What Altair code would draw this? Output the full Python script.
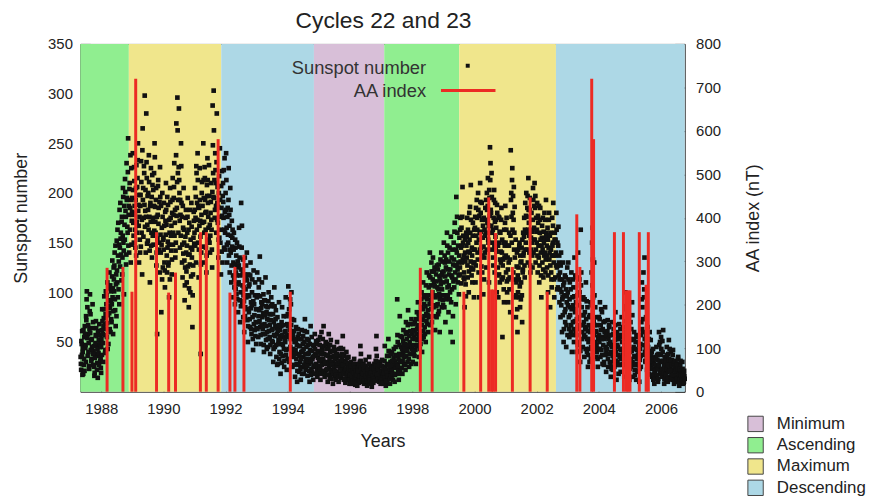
import altair as alt
import pandas as pd

FONT = "Liberation Sans"

# ---------------- Sunspot number samples, first pass (about one every 6 days) ----------------
ss_1987 = [35, 22, 48, 61, 40, 18, 27, 55, 66, 44, 30, 72, 101, 85, 58, 40, 26, 63, 98, 78,
           52, 33, 45, 88, 70, 41, 25, 19, 38, 57, 64, 47, 29, 14, 36, 52, 68, 45, 31, 24]
ss_1988 = [45, 62, 83, 58, 30, 74, 96, 68, 42, 101, 88, 55, 110, 77, 48, 92, 120, 84, 60, 101,
           70, 116, 95, 58, 125, 101, 140, 82, 66, 118, 152, 110, 95, 170, 131, 88, 145, 190, 160, 112,
           176, 135, 205, 150, 98, 168, 214, 182, 128, 230, 195, 160, 255, 178, 140, 210, 185, 130, 225, 172]
ss_1989 = [195, 240, 170, 150, 212, 180, 145, 205, 228, 160, 215, 250, 188, 130, 176, 140, 198, 232, 160, 118,
           265, 205, 175, 220, 298, 182, 140, 280, 215, 168, 152, 200, 238, 176, 110, 190, 225, 160, 135, 208,
           175, 148, 220, 250, 186, 160, 205, 140, 58, 178, 213, 185, 150, 120, 196, 140, 80, 165, 200, 125]
ss_1990 = [155, 190, 130, 105, 172, 210, 168, 120, 145, 188, 130, 95, 160, 205, 175, 142, 118, 180, 215, 160,
           195, 230, 170, 135, 150, 270, 185, 296, 220, 160, 285, 200, 145, 178, 250, 190, 130, 115, 165, 205,
           150, 92, 125, 175, 140, 110, 160, 195, 138, 85, 170, 128, 100, 145, 190, 135, 65, 118, 155, 172]
ss_1991 = [160, 205, 175, 130, 220, 190, 240, 150, 115, 185, 225, 172, 38, 140, 200, 170, 130, 250, 195, 160,
           215, 180, 145, 120, 208, 235, 190, 165, 228, 150, 140, 180, 210, 163, 125, 288, 220, 303, 195, 175,
           240, 210, 160, 280, 190, 170, 135, 200, 155, 245, 150, 118, 185, 222, 130, 210, 175, 145, 235, 160]
ss_1992 = [200, 240, 165, 130, 185, 150, 225, 178, 120, 205, 140, 110, 172, 155, 95, 130, 160, 105, 88, 145,
           120, 98, 150, 125, 80, 110, 165, 135, 70, 100, 190, 145, 90, 120, 75, 105, 60, 135, 85, 115,
           95, 140, 72, 50, 118, 80, 108, 65, 130, 90, 58, 100, 75, 42, 122, 88, 62, 110, 70, 48]
ss_1993 = [95, 120, 70, 55, 105, 82, 136, 65, 48, 90, 110, 75, 58, 98, 40, 68, 92, 115, 52, 80,
           60, 85, 45, 100, 72, 55, 38, 78, 95, 62, 88, 50, 30, 70, 105, 45, 66, 82, 35, 58,
           75, 28, 52, 90, 40, 62, 18, 48, 70, 85, 36, 55, 76, 25, 60, 50, 95, 42, 22, 68]
ss_1994 = [78, 106, 55, 30, 62, 45, 88, 100, 40, 25, 60, 35, 72, 50, 15, 42, 65, 28, 10, 55,
           38, 58, 20, 46, 30, 12, 40, 62, 25, 48, 35, 18, 50, 73, 30, 22, 45, 60, 16, 38,
           52, 28, 10, 42, 66, 30, 55, 20, 35, 12, 46, 25, 58, 38, 18, 28, 48, 15, 34, 52]
ss_1995 = [40, 25, 55, 12, 33, 60, 45, 20, 30, 66, 38, 15, 28, 50, 22, 30, 48, 10, 36, 58,
           25, 14, 40, 52, 18, 35, 22, 8, 30, 45, 16, 42, 28, 12, 34, 50, 20, 36, 10, 26,
           18, 30, 44, 14, 22, 38, 56, 24, 12, 30, 20, 9, 28, 40, 15, 26, 14, 35, 18, 8]
ss_1996 = [12, 22, 30, 8, 18, 25, 10, 15, 33, 20, 7, 18, 28, 12, 6, 15, 24, 9, 20, 30,
           46, 38, 18, 10, 22, 14, 28, 8, 16, 25, 32, 12, 20, 6, 15, 10, 22, 35, 18, 8,
           26, 14, 5, 20, 12, 9, 18, 28, 15, 24, 43, 56, 30, 18, 12, 22, 10, 16, 30, 8]
ss_1997 = [10, 20, 32, 15, 8, 25, 12, 46, 18, 6, 14, 28, 10, 22, 53, 36, 18, 8, 30, 20,
           15, 40, 26, 12, 34, 24, 10, 30, 45, 18, 28, 93, 50, 20, 12, 38, 76, 22, 45, 30,
           55, 18, 40, 62, 28, 35, 48, 22, 70, 42, 60, 30, 82, 45, 25, 50, 68, 38, 28, 58]
ss_1998 = [45, 30, 62, 38, 55, 70, 42, 28, 58, 80, 52, 90, 65, 35, 75, 60, 48, 85, 100, 40,
           72, 110, 55, 88, 65, 95, 50, 78, 120, 68, 82, 60, 105, 75, 140, 115, 92, 130, 70, 100,
           135, 85, 110, 125, 62, 95, 118, 75, 105, 88, 78, 128, 98, 60, 112, 108, 140, 85, 120, 92]
ss_1999 = [110, 150, 85, 130, 70, 125, 95, 160, 105, 140, 80, 118, 145, 100, 60, 90, 135, 115, 50, 128,
           150, 105, 170, 120, 88, 196, 140, 160, 110, 130, 98, 155, 125, 175, 145, 165, 130, 206, 150, 115,
           120, 85, 140, 108, 160, 135, 175, 115, 150, 100, 180, 140, 160, 208, 125, 145, 110, 170, 130, 95]
ss_2000 = [130, 165, 110, 185, 150, 175, 140, 200, 120, 95, 160, 210, 180, 145, 190, 120, 155, 98, 175, 135,
           140, 185, 160, 125, 200, 170, 215, 150, 110, 195, 246, 230, 180, 220, 160, 150, 135, 175, 203, 120,
           190, 145, 165, 100, 180, 125, 95, 150, 175, 110, 160, 130, 185, 140, 55, 115, 150, 90, 135, 170]
ss_2001 = [150, 120, 175, 100, 135, 90, 130, 160, 115, 80, 243, 200, 150, 225, 180, 120, 206, 160, 135, 95,
           75, 110, 140, 60, 100, 125, 95, 150, 85, 130, 110, 145, 70, 120, 160, 140, 175, 115, 190, 150,
           200, 160, 185, 130, 215, 170, 140, 195, 120, 155, 180, 150, 125, 205, 140, 165, 210, 185, 130, 175]
ss_2002 = [150, 190, 120, 170, 135, 110, 160, 185, 140, 95, 155, 130, 175, 115, 150, 180, 140, 120, 193, 160,
           125, 165, 100, 145, 180, 140, 85, 160, 120, 105, 175, 150, 190, 130, 95, 160, 115, 140, 180, 125,
           150, 105, 166, 130, 90, 120, 75, 140, 100, 60, 95, 130, 50, 110, 80, 70, 115, 45, 90, 125]
ss_2003 = [100, 130, 75, 55, 110, 85, 60, 120, 40, 95, 70, 105, 50, 135, 80, 60, 90, 40, 115, 65,
           140, 75, 50, 100, 30, 163, 120, 85, 60, 45, 95, 70, 35, 80, 55, 110, 65, 40, 85, 25,
           50, 75, 30, 60, 90, 45, 120, 150, 165, 95, 70, 130, 50, 85, 35, 60, 40, 75, 25, 55]
ss_2004 = [75, 50, 90, 35, 62, 42, 80, 28, 55, 70, 30, 60, 85, 45, 20, 55, 38, 72, 25, 48,
           65, 30, 50, 15, 40, 45, 70, 22, 58, 35, 25, 52, 80, 40, 12, 60, 30, 45, 18, 68,
           35, 55, 20, 42, 75, 50, 28, 65, 38, 15, 86, 100, 60, 40, 25, 45, 20, 55, 32, 12]
ss_2005 = [40, 70, 25, 52, 90, 30, 15, 45, 60, 22, 35, 50, 12, 28, 42, 20, 55, 38, 10, 32,
           48, 25, 70, 110, 85, 60, 120, 95, 135, 40, 30, 75, 50, 22, 65, 45, 18, 35, 60, 28,
           52, 25, 40, 15, 30, 12, 28, 8, 20, 35, 25, 45, 15, 32, 10, 38, 60, 22, 50, 18]
ss_2006 = [55, 30, 15, 40, 62, 22, 8, 35, 18, 12, 28, 45, 20, 10, 38, 52, 30, 15, 25, 40,
           18, 32, 12, 42, 22, 8, 25, 15, 30, 12, 20, 10, 28, 35, 15, 6, 18, 26, 12, 22,
           14, 30, 8, 20, 10, 16]

# ---------------- Sunspot number samples, second pass (the days in between) ----------------
ss2_1987 = [28, 51, 37, 17, 44, 62, 33, 21, 58, 47, 76, 93, 54, 36, 67, 49, 23, 81, 59, 42,
            31, 53, 64, 38, 27, 46, 16, 34, 49, 71, 56, 22, 43, 61, 39, 27, 48, 57, 33, 19]
ss2_1988 = [53, 37, 71, 49, 66, 83, 57, 39, 78, 63, 97, 69, 43, 86, 104,
            79, 63, 107, 91, 73, 88, 132, 104, 81, 113, 127, 93, 147, 108, 76,
            122, 163, 137, 103, 148, 183, 126, 154, 138, 171, 118, 157, 196, 142, 187,
            153, 201, 176, 138, 193, 166, 221, 147, 187, 204, 163, 238, 193, 148, 181]
ss2_1989 = [178, 203, 157, 226, 187, 163, 193, 137, 171, 206, 233, 182, 167, 198, 153,
            187, 146, 211, 173, 243, 193, 156, 227, 188, 166, 203, 176, 231, 149, 197,
            183, 163, 211, 142, 187, 171, 147, 196, 218, 157, 203, 187, 162, 236, 171,
            193, 127, 176, 154, 207, 169, 143, 191, 226, 158, 187, 148, 113, 176, 153]
ss2_1990 = [143, 167, 122, 181, 158, 183, 137, 196, 151, 127, 148, 173, 113, 191, 157,
            167, 133, 193, 148, 178, 206, 157, 183, 142, 238, 177, 211, 263, 193, 226,
            213, 172, 193, 157, 227, 176, 148, 187, 139, 163, 132, 107, 156, 183, 121,
            147, 176, 126, 163, 104, 138, 183, 153, 116, 166, 143, 97, 127, 181, 149]
ss2_1991 = [183, 147, 196, 227, 163, 173, 213, 187, 143, 167, 193, 156, 128, 178, 211,
            187, 146, 213, 171, 226, 193, 163, 181, 137, 197, 213, 176, 153, 197, 168,
            157, 191, 173, 143, 201, 248, 196, 263, 213, 183, 223, 187, 231, 173, 206,
            186, 153, 217, 176, 193, 163, 207, 141, 177, 197, 191, 223, 163, 181, 143]
ss2_1992 = [183, 213, 148, 176, 158, 193, 137, 167, 143, 183, 157, 127, 146, 163, 117,
            143, 113, 128, 153, 103, 137, 117, 93, 131, 108, 127, 146, 92, 117, 86,
            123, 167, 107, 133, 97, 91, 118, 76, 103, 127, 83, 112, 97, 66, 106,
            96, 73, 117, 84, 63, 87, 113, 53, 91, 68, 77, 97, 56, 83, 64]
ss2_1993 = [83, 63, 97, 76, 113, 71, 96, 57, 84, 67, 88, 63, 79, 47, 92,
            77, 58, 86, 66, 43, 73, 53, 91, 61, 78, 67, 47, 86, 72, 51,
            63, 78, 43, 57, 86, 56, 73, 47, 64, 27, 61, 48, 67, 33, 56,
            53, 38, 66, 29, 57, 47, 67, 43, 31, 53, 61, 37, 76, 57, 33]
ss2_1994 = [66, 43, 83, 57, 93, 53, 67, 36, 73, 56, 43, 61, 27, 53, 38,
            51, 33, 47, 21, 63, 27, 46, 36, 53, 23, 33, 53, 18, 41, 56,
            43, 27, 61, 38, 23, 33, 53, 26, 47, 31, 39, 21, 48, 33, 17,
            23, 41, 33, 47, 26, 36, 18, 43, 27, 51, 38, 22, 41, 26, 19]
ss2_1995 = [31, 47, 23, 38, 18, 27, 41, 53, 33, 21, 46, 29, 18, 37, 43,
            23, 37, 17, 44, 28, 33, 47, 21, 29, 13, 27, 41, 19, 36, 24,
            33, 21, 37, 17, 26, 38, 29, 15, 43, 31, 24, 36, 17, 27, 33,
            27, 43, 18, 36, 21, 13, 31, 23, 17, 34, 19, 29, 12, 23, 16]
ss2_1996 = [17, 9, 26, 14, 21, 11, 28, 19, 13, 24, 15, 21, 9, 17, 23,
            21, 12, 27, 16, 11, 31, 24, 14, 19, 27, 18, 11, 23, 13, 20,
            16, 26, 11, 19, 23, 14, 28, 17, 12, 21, 19, 9, 24, 16, 11,
            13, 23, 11, 19, 31, 26, 36, 17, 23, 14, 18, 27, 13, 21, 12]
ss2_1997 = [14, 26, 9, 17, 23, 19, 31, 14, 23, 11, 19, 36, 16, 27, 41,
            27, 13, 23, 38, 16, 21, 31, 18, 27, 43, 31, 17, 37, 24, 28,
            36, 57, 26, 33, 18, 47, 31, 56, 37, 24, 43, 31, 51, 36, 47,
            43, 27, 58, 36, 53, 41, 67, 47, 33, 56, 38, 61, 46, 73, 43]
ss2_1998 = [53, 41, 68, 47, 36, 61, 53, 73, 46, 63, 67, 47, 78, 56, 43,
            73, 56, 93, 67, 53, 83, 61, 97, 76, 58, 86, 107, 71, 93, 77,
            97, 76, 117, 88, 67, 107, 83, 121, 96, 113, 97, 121, 87, 106, 76,
            111, 86, 127, 97, 123, 103, 81, 116, 93, 133, 97, 117, 103, 131, 87]
ss2_1999 = [121, 97, 137, 116, 93, 133, 111, 147, 97, 123, 107, 131, 93, 123, 156,
            117, 103, 143, 76, 111, 133, 161, 127, 113, 143, 127, 176, 123, 147, 117,
            137, 118, 163, 131, 109, 147, 176, 133, 157, 137, 113, 153, 131, 96, 147,
            156, 127, 163, 141, 121, 153, 186, 131, 173, 117, 137, 157, 123, 143, 163]
ss2_2000 = [143, 176, 127, 157, 193, 163, 133, 183, 153, 177, 143, 191, 161, 126, 173,
            137, 167, 146, 113, 163, 157, 173, 193, 143, 183, 187, 153, 167, 203, 177,
            213, 183, 167, 196, 143, 163, 127, 193, 147, 171, 156, 173, 141, 188, 117,
            147, 176, 118, 161, 133, 141, 173, 113, 153, 127, 133, 103, 163, 147, 187]
ss2_2001 = [137, 163, 111, 147, 123, 113, 147, 103, 133, 157, 193, 176, 213, 163, 197,
            173, 143, 186, 113, 153, 97, 126, 83, 117, 143, 113, 147, 106, 137, 93,
            131, 97, 153, 123, 137, 156, 127, 163, 143, 177, 176, 143, 197, 163, 183,
            157, 183, 127, 163, 143, 161, 137, 173, 193, 153, 187, 153, 197, 143, 161]
ss2_2002 = [163, 137, 177, 147, 187, 127, 173, 153, 117, 147, 167, 143, 123, 161, 137,
            153, 173, 133, 157, 147, 137, 153, 117, 173, 133, 157, 127, 143, 113, 137,
            147, 167, 137, 113, 153, 137, 153, 127, 163, 103, 127, 147, 117, 137, 113,
            103, 127, 87, 113, 93, 77, 107, 63, 97, 117, 83, 103, 67, 96, 57]
ss2_2003 = [87, 113, 63, 93, 77, 103, 67, 83, 57, 113, 87, 63, 96, 71, 117,
            83, 57, 73, 97, 47, 63, 87, 113, 67, 41, 107, 77, 53, 93, 67,
            77, 57, 93, 63, 43, 73, 91, 53, 61, 37, 67, 43, 77, 53, 33,
            63, 87, 107, 133, 73, 57, 97, 67, 43, 61, 47, 67, 33, 53, 43]
ss2_2004 = [57, 73, 43, 67, 83, 53, 37, 63, 47, 27, 53, 71, 37, 57, 41,
            43, 61, 33, 53, 67, 38, 57, 27, 47, 23, 57, 36, 47, 63, 31,
            43, 67, 31, 53, 27, 47, 37, 57, 27, 53, 43, 63, 33, 27, 57,
            37, 57, 43, 27, 53, 71, 47, 83, 33, 57, 33, 51, 27, 41, 23]
ss2_2005 = [53, 33, 63, 41, 77, 43, 27, 53, 36, 17, 43, 27, 57, 33, 21,
            37, 27, 47, 23, 43, 36, 57, 93, 63, 37, 73, 47, 103, 53, 31,
            43, 57, 33, 47, 27, 33, 53, 23, 41, 31, 37, 17, 33, 23, 43,
            17, 33, 21, 13, 27, 33, 17, 37, 23, 13, 27, 47, 31, 21, 37]
ss2_2006 = [43, 23, 51, 31, 19, 27, 13, 23, 31, 17, 23, 37, 13, 27, 21,
            33, 43, 21, 13, 31, 27, 13, 37, 17, 29, 17, 31, 11, 21, 27,
            13, 23, 33, 17, 9, 23, 13, 31, 17, 21, 11, 23, 17, 9, 21, 13]

ss_starts = [1987.34, 1988, 1989, 1990, 1991, 1992, 1993, 1994, 1995, 1996,
             1997, 1998, 1999, 2000, 2001, 2002, 2003, 2004, 2005, 2006]
ss_lists = [ss_1987, ss_1988, ss_1989, ss_1990, ss_1991, ss_1992, ss_1993, ss_1994, ss_1995, ss_1996,
            ss_1997, ss_1998, ss_1999, ss_2000, ss_2001, ss_2002, ss_2003, ss_2004, ss_2005, ss_2006]
ss2_lists = [ss2_1987, ss2_1988, ss2_1989, ss2_1990, ss2_1991, ss2_1992, ss2_1993, ss2_1994, ss2_1995,
             ss2_1996, ss2_1997, ss2_1998, ss2_1999, ss2_2000, ss2_2001, ss2_2002, ss2_2003, ss2_2004,
             ss2_2005, ss2_2006]

# ---------------- Solar-cycle phases ----------------
phase_names = ["Ascending", "Maximum", "Descending", "Minimum", "Ascending", "Maximum", "Descending"]
phase_start = [1987.33, 1988.89, 1991.86, 1994.84, 1997.10, 1999.51, 2002.62]
phase_end = [1988.89, 1991.86, 1994.84, 1997.10, 1999.51, 2002.62, 2006.76]
legend_order = ["Minimum", "Ascending", "Maximum", "Descending"]
legend_colors = ["#d8bfd8", "#90ee90", "#f0e68c", "#add8e6"]

# ---------------- AA index storm spikes ----------------
aa_year = [1988.19, 1988.70, 1988.99, 1989.11, 1989.78, 1990.17, 1990.39, 1991.19, 1991.38, 1991.76,
           1992.14, 1992.30, 1992.59, 1994.08, 1998.26, 1998.64, 1999.66, 2000.20, 2000.46, 2000.55,
           2000.60, 2000.68, 2001.22, 2001.79, 2002.34, 2003.29, 2003.39, 2003.77, 2003.83, 2004.50,
           2004.79, 2004.88, 2004.94, 2005.00, 2005.30, 2005.52, 2005.59]
aa_value = [285, 287, 230, 720, 367, 228, 274, 367, 367, 581,
            228, 287, 315, 230, 285, 235, 230, 367, 447, 235,
            235, 365, 287, 447, 230, 408, 287, 720, 581, 367,
            367, 233, 233, 233, 367, 246, 367]

x_ticks = list(range(1988, 2007, 2))
ssn_ticks = list(range(50, 351, 50))
aa_ticks = list(range(0, 801, 100))
x_domain = [1987.33, 2006.76]

title_text = ["Cycles 22 and 23"]
key_labels = ["Sunspot number", "AA index"]

# ---------------- Tables ----------------
ss_rows = []
for start, vals, vals2 in zip(ss_starts, ss_lists, ss2_lists):
    for i, v in enumerate(vals):
        ss_rows.append({"year": start + i / 60.0, "ssn": v})
    for i, v in enumerate(vals2):
        ss_rows.append({"year": start + (i + 0.5) / 60.0, "ssn": v})
ss_df = pd.DataFrame(ss_rows)
phase_df = pd.DataFrame({"phase": phase_names, "start": phase_start, "end": phase_end})
aa_df = pd.DataFrame({"year": aa_year, "aa": aa_value})

xscale = alt.Scale(domain=x_domain, nice=False, zero=False)
W, H = 610, 351

bands = alt.Chart(phase_df).mark_rect(opacity=1).encode(
    x=alt.X("start:Q", scale=xscale,
            axis=alt.Axis(orient="top", values=x_ticks, labels=False, tickSize=10, offset=-10,
                          domain=False, grid=False, title=None, tickColor="#333")),
    x2="end:Q",
    y=alt.value(0),
    y2=alt.value(H),
    color=alt.Color("phase:N",
                    scale=alt.Scale(domain=legend_order, range=legend_colors),
                    legend=alt.Legend(title=None, orient="none", legendX=673, legendY=375,
                                      symbolType="square", symbolSize=240, symbolStrokeColor="#444",
                                      symbolStrokeWidth=1, symbolOpacity=1, labelFontSize=17,
                                      labelFont=FONT, labelColor="#222", labelOffset=13,
                                      rowPadding=0.5, padding=0)),
)

points = alt.Chart(ss_df).mark_square(size=22, color="#111111", opacity=1).encode(
    x=alt.X("year:Q", scale=xscale,
            axis=alt.Axis(orient="bottom", values=x_ticks, format="d", tickSize=10, offset=-10,
                          labelPadding=10, title="Years", titlePadding=16)),
    y=alt.Y("ssn:Q", scale=alt.Scale(domain=[0, 350], nice=False),
            axis=alt.Axis(orient="left", values=ssn_ticks, tickSize=10, offset=-10,
                          labelPadding=8, title="Sunspot number", titlePadding=17)),
)

spikes = alt.Chart(aa_df).mark_rule(color="#ec2b24", strokeWidth=3).encode(
    x=alt.X("year:Q", scale=xscale, axis=None),
    y=alt.Y("aa:Q", scale=alt.Scale(domain=[0, 800], nice=False),
            axis=alt.Axis(orient="right", values=aa_ticks, tickSize=10, offset=-10,
                          labelPadding=11, title="AA index (nT)", titleAngle=270,
                          titleBaseline="top", titlePadding=24)),
    y2=alt.datum(0),
)

title = alt.Chart(pd.DataFrame({"t": title_text})).mark_text(
    align="center", baseline="alphabetic", font=FONT, fontSize=23, color="#222"
).encode(x=alt.value(W / 2 + 1), y=alt.value(-16), text="t:N")

key_df = pd.DataFrame({"label": key_labels})
key_text1 = alt.Chart(key_df.iloc[[0]]).mark_text(
    align="right", baseline="alphabetic", font=FONT, fontSize=18.5, color="#333"
).encode(x=alt.value(349), y=alt.value(30), text="label:N")
key_text2 = alt.Chart(key_df.iloc[[1]]).mark_text(
    align="right", baseline="alphabetic", font=FONT, fontSize=18.5, color="#333"
).encode(x=alt.value(349), y=alt.value(54), text="label:N")
key_point = alt.Chart(key_df.iloc[[0]]).mark_square(size=16, color="#111111", opacity=1).encode(
    x=alt.value(391), y=alt.value(22))
key_line = alt.Chart(key_df.iloc[[1]]).mark_rule(color="#ec2b24", strokeWidth=3).encode(
    x=alt.value(364), x2=alt.value(419), y=alt.value(47))

chart = alt.layer(
    bands, points, spikes, title, key_text1, key_text2, key_point, key_line
).resolve_scale(
    y="independent"
).properties(
    width=W, height=H,
    padding={"left": 73, "top": 34, "right": 187, "bottom": 103},
    autosize=alt.AutoSizeParams(type="none"),
    background="white",
).configure_view(
    stroke="#222", strokeWidth=1
).configure_axis(
    grid=False, domain=False, labelFont=FONT, titleFont=FONT, labelFontSize=15,
    titleFontSize=18, titleFontWeight="normal", labelColor="#222", titleColor="#222",
    tickColor="#333", tickWidth=1
)

chart.save("out.html", embed_options={"renderer": "svg", "actions": False})
